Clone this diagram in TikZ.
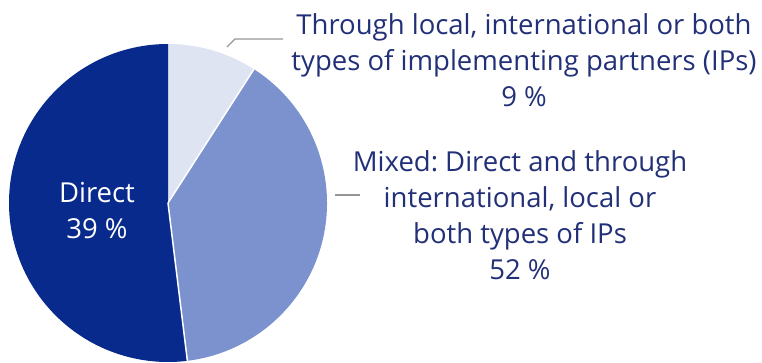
\documentclass[tikz,border=0pt]{standalone}
\usepackage{fontspec}
\setmainfont{Open Sans}
\frenchspacing
\definecolor{darkslice}{RGB}{8,42,140}
\definecolor{midslice}{RGB}{124,146,206}
\definecolor{lightslice}{RGB}{222,228,242}
\definecolor{labelblue}{RGB}{34,48,120}
\definecolor{leadergray}{RGB}{150,150,150}
\begin{document}
\begin{tikzpicture}[x=1pt,y=1pt,
  lbl/.style={inner sep=0pt,align=center,text=labelblue,font=\fontsize{27.5}{36}\selectfont\frenchspacing},
  leader/.style={draw=leadergray,line width=1.2pt},
  sep/.style={draw=white,line width=1.5pt}]
\useasboundingbox (0,-363) rectangle (762,0);
\coordinate (C) at (168,-203);
\def\R{159}
% slices
\fill[lightslice] (C) -- ++(90:\R) arc[start angle=90,end angle=57.3,radius=\R] -- cycle;
\fill[midslice] (C) -- ++(57.3:\R) arc[start angle=57.3,end angle=-83,radius=\R] -- cycle;
\fill[darkslice] (C) -- ++(90:\R) arc[start angle=90,end angle=277,radius=\R] -- cycle;
\draw[sep] (C) -- ++(57.3:\R);
\draw[sep] (C) -- ++(-83:\R);
% labels
\node[lbl,text=white,anchor=north] (direct) at (97,-182) {Direct\\39 \%};
\node[lbl,anchor=north] (through) at (524,-13) {Through local, international or both\\types of implementing partners (IPs)\\9 \%};
\node[lbl,anchor=north] (mixed) at (520,-150) {Mixed: Direct and through\\international, local or\\both types of IPs\\52 \%};
% leaders
\coordinate (t1) at (227,-47);
\coordinate (t2) at (235,-39);
\coordinate (t3) at (283,-39);
\draw[leader] (t1) -- (t2) -- (t3);
\coordinate (m1) at (335,-195);
\coordinate (m2) at (360,-195);
\draw[leader] (m1) -- (m2);
\end{tikzpicture}
\end{document}
